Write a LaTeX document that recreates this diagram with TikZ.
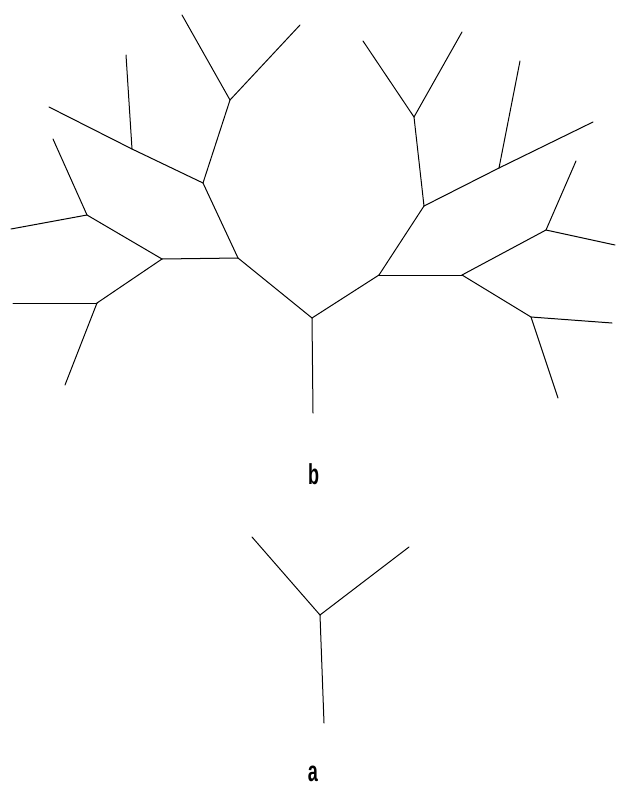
\documentclass[tikz,border=0pt]{standalone}
\usepackage{fontspec}
\setmainfont{Liberation Sans}
\usetikzlibrary{positioning}

\begin{document}
\begin{tikzpicture}[
      x=1pt, y=-1pt,
      ramo/.style={line width=1pt, line cap=round, line join=round},
      rotulo/.style={font=\fontsize{24}{24}\selectfont\bfseries, xscale=0.75, yscale=1.2, inner sep=0pt, anchor=base}
  ]
      \useasboundingbox (0,0) rectangle (616,787);

      % Arvore b: tronco e ramos principais
      \coordinate (raiz) at (312,318);
      \coordinate (base) at (313,413);
      \coordinate (e1) at (238,258);
      \coordinate (d1) at (379,275);

      % lado esquerdo
      \coordinate (e2) at (162,259);
      \coordinate (e3) at (203,183);
      \coordinate (e4) at (230,100);
      \coordinate (e5) at (132,149);
      \coordinate (e6) at (87,215);
      \coordinate (e7) at (97,303);
      \coordinate (e4a) at (182,15);
      \coordinate (e4b) at (300,25);
      \coordinate (e5a) at (49,107);
      \coordinate (e5b) at (126,55);
      \coordinate (e6a) at (53,139);
      \coordinate (e6b) at (11,229);
      \coordinate (e7a) at (13,303);
      \coordinate (e7b) at (65,385);

      % lado direito
      \coordinate (d2) at (462,275);
      \coordinate (d3) at (424,206);
      \coordinate (d4) at (414,117);
      \coordinate (d5) at (499,168);
      \coordinate (d6) at (546,230);
      \coordinate (d7) at (531,317);
      \coordinate (d4a) at (363,41);
      \coordinate (d4b) at (462,32);
      \coordinate (d5a) at (593,122);
      \coordinate (d5b) at (520,61);
      \coordinate (d6a) at (576,161);
      \coordinate (d6b) at (615,245);
      \coordinate (d7a) at (612,323);
      \coordinate (d7b) at (558,398);

      \draw[ramo] (base) -- (raiz);
      \draw[ramo] (raiz) -- (e1);
      \draw[ramo] (raiz) -- (d1);
      \draw[ramo] (e1) -- (e2);
      \draw[ramo] (e1) -- (e3);
      \draw[ramo] (e3) -- (e4);
      \draw[ramo] (e3) -- (e5);
      \draw[ramo] (e2) -- (e6);
      \draw[ramo] (e2) -- (e7);
      \draw[ramo] (e4) -- (e4a);
      \draw[ramo] (e4) -- (e4b);
      \draw[ramo] (e5) -- (e5a);
      \draw[ramo] (e5) -- (e5b);
      \draw[ramo] (e6) -- (e6a);
      \draw[ramo] (e6) -- (e6b);
      \draw[ramo] (e7) -- (e7a);
      \draw[ramo] (e7) -- (e7b);
      \draw[ramo] (d1) -- (d2);
      \draw[ramo] (d1) -- (d3);
      \draw[ramo] (d3) -- (d4);
      \draw[ramo] (d3) -- (d5);
      \draw[ramo] (d2) -- (d6);
      \draw[ramo] (d2) -- (d7);
      \draw[ramo] (d4) -- (d4a);
      \draw[ramo] (d4) -- (d4b);
      \draw[ramo] (d5) -- (d5a);
      \draw[ramo] (d5) -- (d5b);
      \draw[ramo] (d6) -- (d6a);
      \draw[ramo] (d6) -- (d6b);
      \draw[ramo] (d7) -- (d7a);
      \draw[ramo] (d7) -- (d7b);

      \node[rotulo] (rotb) at (313.5,484) {b};

      % Arvore a
      \coordinate (ya) at (320,615);
      \coordinate (yb) at (324,723);
      \coordinate (yc) at (252,537);
      \coordinate (yd) at (409,547);
      \draw[ramo] (yb) -- (ya);
      \draw[ramo] (ya) -- (yc);
      \draw[ramo] (ya) -- (yd);

      \node[rotulo] (rota) at (313,781) {a};
  \end{tikzpicture}
\end{document}
